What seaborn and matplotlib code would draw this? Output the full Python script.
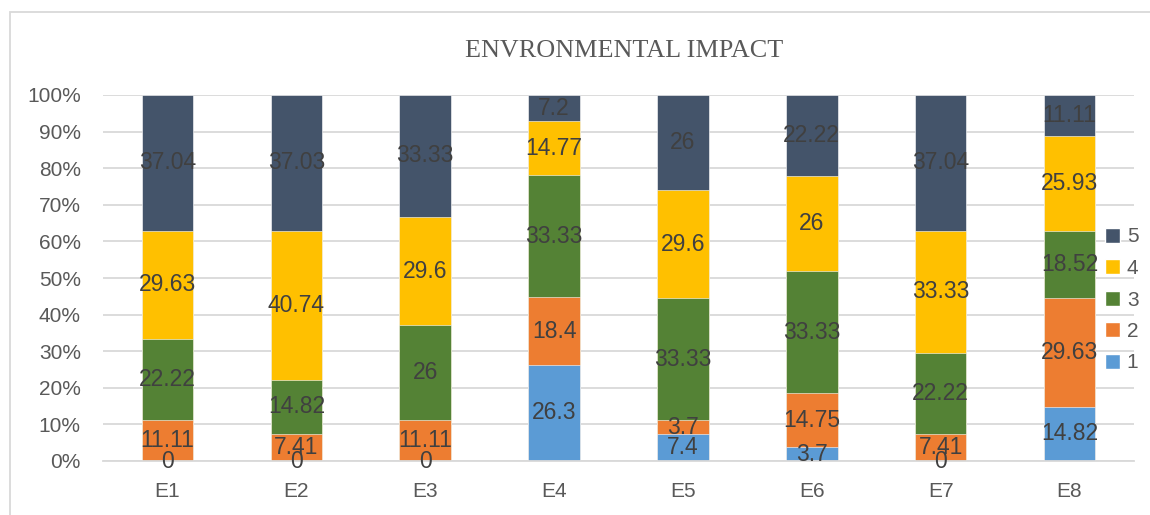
import numpy as np
import seaborn as sns
import matplotlib
matplotlib.use("Agg")
import matplotlib.pyplot as plt
from matplotlib.patches import Patch, Rectangle

# Data
categories = ["E1", "E2", "E3", "E4", "E5", "E6", "E7", "E8"]
s1 = [0, 0, 0, 26.3, 7.4, 3.7, 0, 14.82]
s2 = [11.11, 7.41, 11.11, 18.4, 3.7, 14.75, 7.41, 29.63]
s3 = [22.22, 14.82, 26, 33.33, 33.33, 33.33, 22.22, 18.52]
s4 = [29.63, 40.74, 29.6, 14.77, 29.6, 26, 33.33, 25.93]
s5 = [37.04, 37.03, 33.33, 7.2, 26, 22.22, 37.04, 11.11]
series_names = ["1", "2", "3", "4", "5"]
colors = ["#5B9BD5", "#ED7D31", "#548235", "#FFC000", "#44546A"]

sns.set_style("white")
plt.rcParams["font.family"] = ["Liberation Sans", "DejaVu Sans"]

values = np.array([s1, s2, s3, s4, s5], dtype=float)
pct = values / values.sum(axis=0) * 100
cum = np.cumsum(pct, axis=0)

fig = plt.figure(figsize=(11.5, 5.15), dpi=100)
ax = fig.add_axes([103 / 1150, 54 / 515, 1031 / 1150, 366 / 515])

# stacked bars: draw cumulative heights from the top series down
for i in range(len(series_names) - 1, -1, -1):
    sns.barplot(x=categories, y=cum[i], color=colors[i], width=0.4,
                saturation=1, edgecolor="white", linewidth=0.4, ax=ax, zorder=2)

# value labels in the middle of each segment
for i in range(len(series_names)):
    bottoms = cum[i] - pct[i]
    for j in range(len(categories)):
        ax.text(j, bottoms[j] + pct[i, j] / 2, f"{values[i, j]:g}",
                ha="center", va="center", fontsize=16.5, color="#404040", zorder=4)

ax.set_ylim(0, 100)
ax.set_xlim(-0.5, len(categories) - 0.5)
ax.set_yticks(np.arange(0, 101, 10))
ax.set_yticklabels([f"{t}%" for t in range(0, 101, 10)])
ax.yaxis.grid(True, color="#D9D9D9", linewidth=1.3, zorder=0)
ax.set_axisbelow(True)
ax.set_xlabel("")
ax.set_ylabel("")

for side in ["top", "right", "left"]:
    ax.spines[side].set_visible(False)
ax.spines["bottom"].set_color("#D9D9D9")
ax.spines["bottom"].set_linewidth(1.3)

ax.set_xticks(np.arange(-0.5, len(categories), 1), minor=True)
ax.tick_params(axis="x", which="minor", length=7, color="#D9D9D9", width=1.3)
ax.tick_params(axis="x", which="major", length=0, pad=15, labelsize=15, labelcolor="#595959")
ax.tick_params(axis="y", length=0, pad=16, labelsize=15, labelcolor="#595959")

fig.text(624.5 / 1150, 1 - 51 / 515, "ENVRONMENTAL IMPACT", ha="center", va="center",
         fontsize=18.8, color="#595959", family=["Liberation Serif", "DejaVu Serif"])

handles = [Patch(facecolor=colors[i]) for i in range(len(series_names) - 1, -1, -1)]
labels = series_names[::-1]
leg = fig.legend(handles, labels, loc="center left", bbox_to_anchor=(1105 / 1150, 1 - 300 / 515),
                 frameon=False, handlelength=0.7, handleheight=0.7, handletextpad=0.35,
                 labelspacing=0.6, fontsize=15, borderpad=0, borderaxespad=0)
for t in leg.get_texts():
    t.set_color("#595959")

fig.patches.append(Rectangle((10 / 1150, -0.1), 1.2, 1 - 12 / 515 + 0.1, transform=fig.transFigure,
                             fill=False, edgecolor="#D9D9D9", linewidth=1.3))

fig.savefig("out.png", dpi=100)
